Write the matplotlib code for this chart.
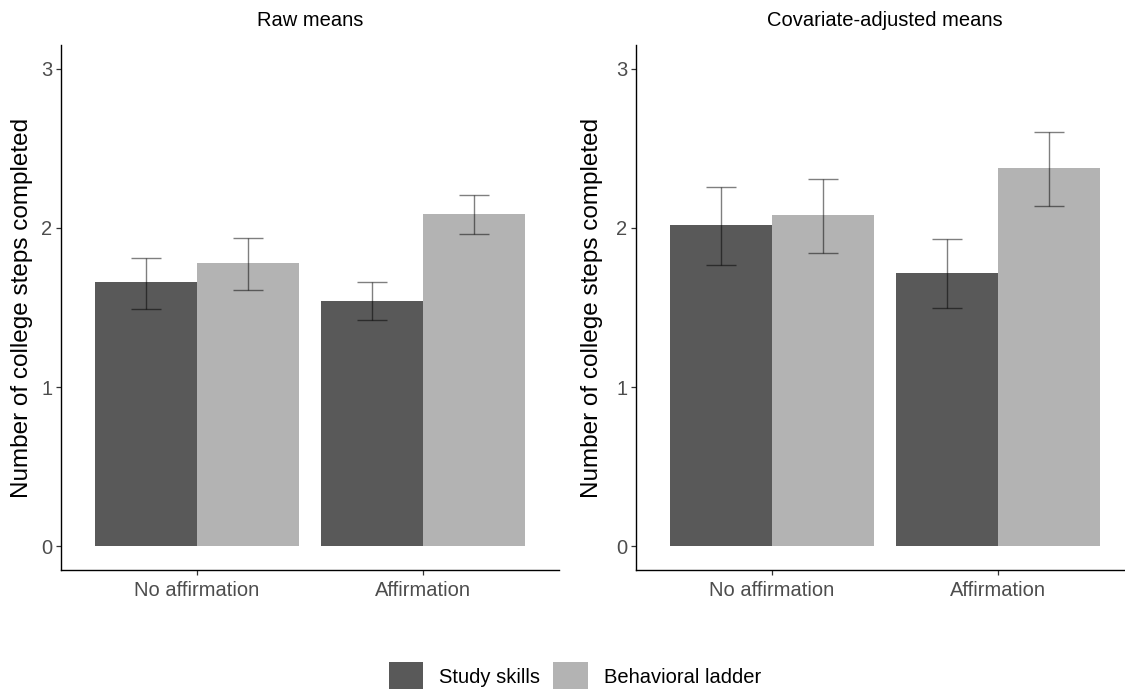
import matplotlib
matplotlib.use("Agg")
import matplotlib.pyplot as plt
from matplotlib.patches import Patch
import numpy as np

plt.rcParams['font.family'] = ['Liberation Sans', 'DejaVu Sans']

conditions = ["No affirmation", "Affirmation"]
series = ["Study skills", "Behavioral ladder"]
panel_titles = ["Raw means", "Covariate-adjusted means"]

# Raw means
raw_study = [1.66, 1.54]
raw_study_lo = [1.49, 1.42]
raw_study_hi = [1.81, 1.66]
raw_ladder = [1.78, 2.09]
raw_ladder_lo = [1.61, 1.96]
raw_ladder_hi = [1.94, 2.21]

# Covariate-adjusted means
adj_study = [2.02, 1.72]
adj_study_lo = [1.77, 1.50]
adj_study_hi = [2.26, 1.93]
adj_ladder = [2.08, 2.38]
adj_ladder_lo = [1.84, 2.14]
adj_ladder_hi = [2.31, 2.60]

yticks = [0, 1, 2, 3]

colors = ["#595959", "#b3b3b3"]
W, H = 1125, 689
fig = plt.figure(figsize=(W / 100, H / 100), dpi=100)

ax_bottom = (H - 570) / H
ax_height = 525 / H
ax_width = 497.2 / W
lefts = [61.4 / W, 636.4 / W]

panels = [
    (raw_study, raw_study_lo, raw_study_hi, raw_ladder, raw_ladder_lo, raw_ladder_hi),
    (adj_study, adj_study_lo, adj_study_hi, adj_ladder, adj_ladder_lo, adj_ladder_hi),
]

x = np.arange(1, len(conditions) + 1)
bw = 0.45
for i, (left, data) in enumerate(zip(lefts, panels)):
    ax = fig.add_axes([left, ax_bottom, ax_width, ax_height])
    s, slo, shi, l, llo, lhi = data
    s = np.array(s); l = np.array(l)
    ax.bar(x - bw / 2, s, width=bw, color=colors[0], linewidth=0, zorder=1)
    ax.bar(x + bw / 2, l, width=bw, color=colors[1], linewidth=0, zorder=1)
    for xs, v, lo, hi in [(x - bw / 2, s, slo, shi), (x + bw / 2, l, llo, lhi)]:
        yerr = np.vstack([v - np.array(lo), np.array(hi) - v])
        ax.errorbar(xs, v, yerr=yerr, fmt='none', ecolor='black', alpha=0.5,
                    elinewidth=1.0, capsize=10.8, capthick=1.0, zorder=2)
    ax.set_xlim(0.4, 2.6)
    ax.set_ylim(-0.15, 3.15)
    ax.set_xticks(x)
    ax.set_xticklabels(conditions)
    ax.set_yticks(yticks)
    ax.set_yticklabels([str(t) for t in yticks])
    for sp in ['top', 'right']:
        ax.spines[sp].set_visible(False)
    for sp in ['left', 'bottom']:
        ax.spines[sp].set_linewidth(1.0)
        ax.spines[sp].set_color('black')
    ax.tick_params(axis='both', length=3.6, width=0.9, color='#333333',
                   labelsize=14.5, labelcolor='#4d4d4d')
    ax.tick_params(axis='x', pad=4.3)
    ax.tick_params(axis='y', pad=3)
    cx = left + ax_width / 2
    fig.text(cx, 1 - 20 / H, panel_titles[i], ha='center', va='center', fontsize=14.5)
    ylx = [22 / W, 592 / W][i]
    fig.text(ylx, 1 - 308 / H, "Number of college steps completed", rotation=90,
             ha='center', va='center', fontsize=17.5)

handles = [Patch(facecolor=colors[0], edgecolor='none'),
           Patch(facecolor=colors[1], edgecolor='none')]
fig.legend(handles, series, loc='center', bbox_to_anchor=(575 / W, 1 - 676 / H),
           ncol=2, frameon=False, fontsize=14.5, handlelength=1.7, handleheight=1.7,
           handletextpad=0.8, columnspacing=0.65, borderpad=0, borderaxespad=0)

fig.savefig("out.png", dpi=100)
